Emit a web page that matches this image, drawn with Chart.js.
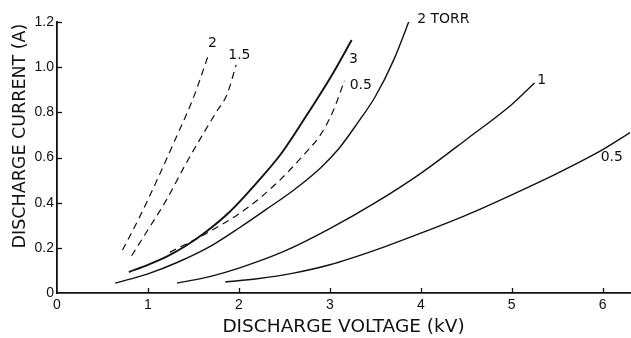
<!DOCTYPE html>
<html><head><meta charset="utf-8">
<script src="https://cdn.jsdelivr.net/npm/chart.js@4/dist/chart.umd.min.js"></script>
<style>html,body{margin:0;padding:0;background:#fff}#wrap{width:631px;height:338px}</style>
</head><body><div id="wrap"><canvas id="c" width="631" height="338"></canvas></div>
<script>
// Dashed curves (pressure in Torr labelled on the curve)
const v_d2   = [0.72, 0.90, 1.10, 1.30, 1.50, 1.67];
const i_d2   = [0.19, 0.33, 0.50, 0.68, 0.865, 1.06];
const v_d15  = [0.82, 1.00, 1.20, 1.40, 1.60, 1.75, 1.87, 1.97];
const i_d15  = [0.165, 0.28, 0.41, 0.56, 0.70, 0.80, 0.88, 1.01];
const v_d05  = [1.24, 1.65, 2.09, 2.45, 2.76, 2.88, 3.03, 3.16];
const i_d05  = [0.18, 0.266, 0.376, 0.50, 0.633, 0.69, 0.80, 0.94];
// Solid curves
const v_s3   = [0.79, 1.00, 1.20, 1.40, 1.65, 1.90, 2.20, 2.47, 2.75, 3.03, 3.24];
const i_s3   = [0.093, 0.125, 0.16, 0.205, 0.275, 0.36, 0.49, 0.62, 0.79, 0.97, 1.12];
const v_s2   = [0.64, 1.00, 1.32, 1.70, 2.01, 2.30, 2.60, 2.90, 3.10, 3.30, 3.50, 3.70, 3.90];
const i_s2   = [0.044, 0.085, 0.135, 0.21, 0.29, 0.37, 0.455, 0.555, 0.64, 0.75, 0.87, 1.03, 1.235];
const v_s1   = [1.32, 1.70, 2.00, 2.50, 3.00, 3.50, 4.00, 4.50, 5.00, 5.25];
const i_s1   = [0.044, 0.075, 0.11, 0.185, 0.285, 0.40, 0.53, 0.68, 0.835, 0.93];
const v_s05  = [1.85, 2.20, 2.60, 3.00, 3.50, 4.00, 4.50, 5.00, 5.50, 6.00, 6.30];
const i_s05  = [0.049, 0.063, 0.088, 0.125, 0.19, 0.265, 0.345, 0.435, 0.53, 0.635, 0.71];

const xTicks = [0, 1, 2, 3, 4, 5, 6];
const yTicks = [0, 0.2, 0.4, 0.6, 0.8, 1.0, 1.2];

const curveLabels   = ['2', '1.5', '3', '0.5', '2 TORR', '1', '0.5'];
const labelVoltage  = [1.71, 2.005, 3.26, 3.34, 3.96, 5.33, 6.10];
const labelCurrent  = [1.107, 1.054, 1.036, 0.92, 1.21, 0.943, 0.602];

const xTitle = 'DISCHARGE VOLTAGE (kV)';
const yTitle = 'DISCHARGE CURRENT (A)';

const pts = (xs, ys) => xs.map((x, k) => ({x, y: ys[k]}));
const FONT = "'DejaVu Sans', sans-serif";
const TICKFONT = "'Liberation Sans', Arial, sans-serif";

function ds(xs, ys, dashed, w) {
  return {
    data: pts(xs, ys), showLine: true, pointRadius: 0, borderColor: '#111',
    borderWidth: w, borderDash: dashed ? [7, 5] : [],
    cubicInterpolationMode: 'monotone', fill: false
  };
}

const extras = {
  id: 'extras',
  afterDraw(chart) {
    const ctx = chart.ctx, x = chart.scales.x, y = chart.scales.y;
    ctx.save();
    ctx.strokeStyle = '#111'; ctx.lineWidth = 1.3;
    yTicks.forEach(v => {
      if (v === 0) return;
      const py = Math.round(y.getPixelForValue(v)) + 0.5;
      ctx.beginPath(); ctx.moveTo(x.left, py); ctx.lineTo(x.left + 5, py); ctx.stroke();
    });
    xTicks.forEach(v => {
      if (v === 0) return;
      const px = Math.round(x.getPixelForValue(v)) + 0.5;
      ctx.beginPath(); ctx.moveTo(px, y.bottom); ctx.lineTo(px, y.bottom - 5); ctx.stroke();
    });
    ctx.fillStyle = '#111';
    ctx.font = '14px ' + FONT;
    ctx.textBaseline = 'middle';
    curveLabels.forEach((t, k) => {
      ctx.textAlign = t === '2 TORR' ? 'left' : 'center';
      ctx.fillText(t, x.getPixelForValue(labelVoltage[k]), y.getPixelForValue(labelCurrent[k]));
    });
    // y-axis title
    ctx.save();
    ctx.translate(20, 136);
    ctx.rotate(-Math.PI / 2);
    ctx.font = '17.5px ' + FONT;
    ctx.textAlign = 'center';
    ctx.textBaseline = 'middle';
    ctx.fillText(yTitle, 0, 0);
    ctx.restore();
    ctx.restore();
  }
};

new Chart(document.getElementById('c'), {
  type: 'scatter',
  data: { datasets: [
    ds(v_d2, i_d2, true, 1.2),
    ds(v_d15, i_d15, true, 1.2),
    ds(v_d05, i_d05, true, 1.2),
    ds(v_s3, i_s3, false, 1.9),
    ds(v_s2, i_s2, false, 1.4),
    ds(v_s1, i_s1, false, 1.4),
    ds(v_s05, i_s05, false, 1.4)
  ]},
  options: {
    responsive: false, devicePixelRatio: 1, animation: false,
    layout: { padding: { top: 22, right: 1, left: 0, bottom: 0 } },
    plugins: { legend: { display: false }, tooltip: { enabled: false } },
    scales: {
      x: {
        type: 'linear', min: 0, max: 6.3,
        afterBuildTicks: s => { s.ticks = xTicks.map(v => ({value: v})); },
        afterFit: s => { s.height = 45; },
        grid: { display: true, drawOnChartArea: false, drawTicks: false },
        border: { display: true, color: '#111', width: 1.8 },
        ticks: { color: '#111', padding: 4, font: { family: TICKFONT, size: 14 }, callback: v => String(v) },
        title: { display: true, text: xTitle, color: '#111', padding: { top: 0, bottom: 0 },
                 font: { family: FONT, size: 18.5 } }
      },
      y: {
        type: 'linear', min: 0, max: 1.2,
        afterBuildTicks: s => { s.ticks = yTicks.map(v => ({value: v})); },
        afterFit: s => { s.width = 57; },
        grid: { display: true, drawOnChartArea: false, drawTicks: false },
        border: { display: true, color: '#111', width: 1.8 },
        ticks: { color: '#111', padding: 3, font: { family: TICKFONT, size: 14 },
                 callback: v => v === 0 ? '0' : v.toFixed(1) },
        title: { display: false }
      }
    }
  },
  plugins: [extras]
});
</script>
</body></html>
